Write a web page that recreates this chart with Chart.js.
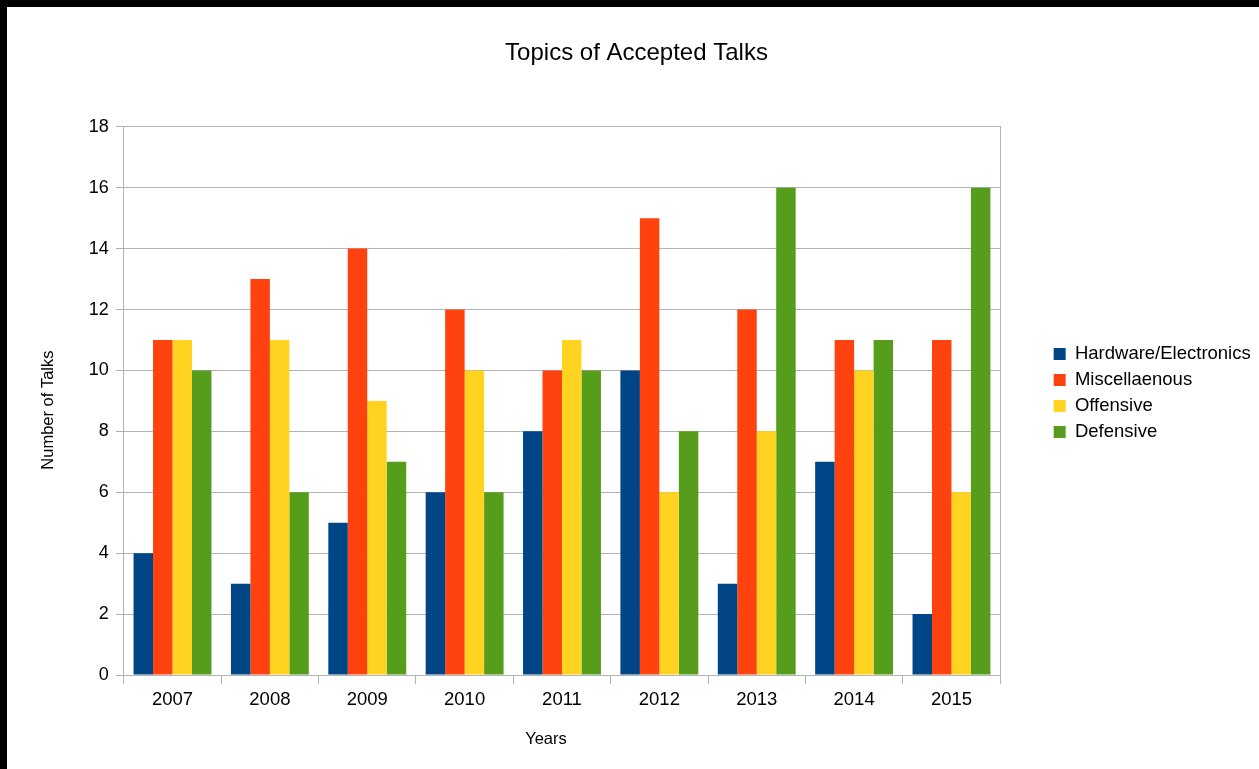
<!DOCTYPE html>
<html>
<head>
<meta charset="utf-8">
<title>Topics of Accepted Talks</title>
<script src="https://cdn.jsdelivr.net/npm/chart.js@4"></script>
<style>
  html, body { margin:0; padding:0; background:#fff; }
  #wrap { position:relative; width:1259px; height:769px; }
  .edge { position:absolute; background:#000; z-index:2; }
  #edgeTop  { left:0; top:0; width:1259px; height:7px; }
  #edgeLeft { left:0; top:0; width:7px; height:769px; }
</style>
</head>
<body>
<div id="wrap">
  <div class="edge" id="edgeTop"></div>
  <div class="edge" id="edgeLeft"></div>
  <canvas id="talksChart"></canvas>
</div>
<script>
/* chart data */
const years      = ['2007','2008','2009','2010','2011','2012','2013','2014','2015'];
const hardware   = [4, 3, 5, 6, 8, 10, 3, 7, 2];
const misc       = [11, 13, 14, 12, 10, 15, 12, 11, 11];
const offensive  = [11, 11, 9, 10, 11, 6, 8, 10, 6];
const defensive  = [10, 6, 7, 6, 10, 8, 16, 11, 16];
const seriesNames = ['Hardware/Electronics', 'Miscellaenous', 'Offensive', 'Defensive'];
const Y_MIN = 0, Y_MAX = 18, Y_STEP = 2;

const COLORS = ['#004586', '#ff420e', '#ffd320', '#579d1c'];
const GRID   = '#b3b3b3';
const FONT   = '"Liberation Sans", Arial, Helvetica, sans-serif';

Chart.defaults.color = '#000';
Chart.defaults.font.family = FONT;

const values = [hardware, misc, offensive, defensive];

// nudge the legend up a bit so it sits where the original one does
const legendShift = {
  id: 'legendShift',
  afterLayout(chart) {
    const lg = chart.legend;
    if (!lg) return;
    lg.top -= 8; lg.bottom -= 8;
  }
};

new Chart(document.getElementById('talksChart'), {
  type: 'bar',
  data: {
    labels: years,
    datasets: seriesNames.map((name, i) => ({
      label: name,
      data: values[i],
      backgroundColor: COLORS[i],
      borderWidth: 0,
      categoryPercentage: 0.8,
      barPercentage: 1.0,
    })),
  },
  options: {
    responsive: true, maintainAspectRatio: false, animation: false,
    layout: { padding: { left: 22, top: 0, right: 8, bottom: 12 } },
    plugins: {
      title: { display: true, text: 'Topics of Accepted Talks',
               font: { size: 24, weight: 'normal' }, color: '#000',
               padding: { top: 39, bottom: 59 } },
      legend: { position: 'right', fullSize: false,
                labels: { boxWidth: 12, boxHeight: 12, padding: 7.5,
                          font: { size: 18.5 }, color: '#000' } },
      tooltip: { enabled: false },
    },
    scales: {
      x: {
        grid: { drawOnChartArea: false, tickLength: 9, color: GRID },
        border: { color: GRID },
        ticks: { font: { size: 18.5 }, padding: 5, color: '#000' },
        // trailing spaces keep the title a little left of centre, as in the original
        title: { display: true, text: 'Years       ', font: { size: 16.5 },
                 padding: { top: 13, bottom: 8 }, color: '#000' },
      },
      y: {
        min: Y_MIN, max: Y_MAX,
        grid: { color: GRID, tickLength: 8 },
        border: { color: GRID },
        ticks: { stepSize: Y_STEP, font: { size: 18 }, padding: 7, color: '#000' },
        title: { display: true, text: 'Number of Talks    ', font: { size: 16.5 },
                 padding: { top: 17, bottom: 23 }, color: '#000' },
      },
      // empty right axis: draws the plot's right edge and leaves the gap before the legend
      y2: {
        position: 'right',
        grid: { display: false },
        border: { color: GRID },
        ticks: { display: false },
        afterFit: s => { s.width = 46; },
      },
    },
  },
  plugins: [legendShift],
});
</script>
</body>
</html>
